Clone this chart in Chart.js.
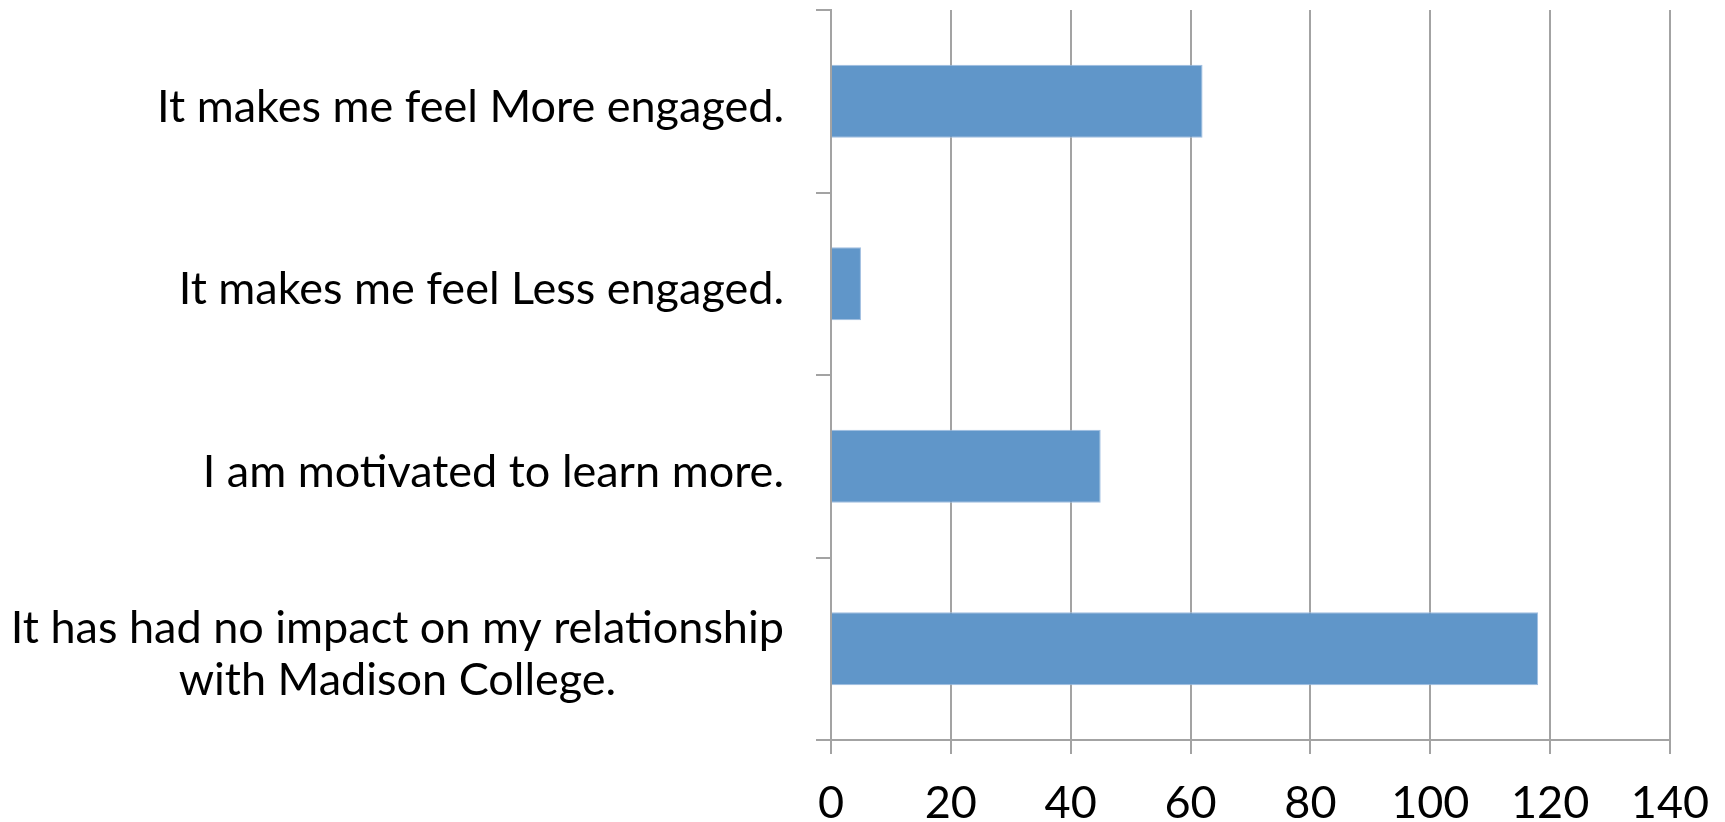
<!DOCTYPE html>
<html>
<head>
<meta charset="utf-8">
<script src="https://cdn.jsdelivr.net/npm/chart.js@4/dist/chart.umd.min.js"></script>
<style>
  html, body { margin: 0; padding: 0; background: #fff; overflow: hidden; }
  #wrap { width: 1725px; height: 822px; }
  canvas { display: block; }
</style>
</head>
<body>
<div id="wrap"><canvas id="chart"></canvas></div>
<script>
// survey answers, top to bottom
const answers = [
  ['It makes me feel More engaged.'],
  ['It makes me feel Less engaged.'],
  ['I am motivated to learn more.'],
  ['It has had no impact on my relationship', 'with Madison College.']
];
const responses = [62, 5, 45, 118];
const xTicks = [0, 20, 40, 60, 80, 100, 120, 140];

const FONT = 'Lato, "Open Sans", sans-serif';
const GRID = '#a3a3a3';

// category labels: right edge at the axis gap, wrapped lines centred on each other
const answerLabels = {
  id: 'answerLabels',
  afterDraw(chart) {
    const { ctx, scales: { y } } = chart;
    const rightEdge = y.right - 47;
    const lineH = 52;
    ctx.save();
    ctx.font = '45px ' + FONT;
    ctx.fillStyle = '#000';
    ctx.textAlign = 'center';
    ctx.textBaseline = 'middle';
    answers.forEach((lines, i) => {
      const widest = Math.max(...lines.map(l => ctx.measureText(l).width));
      const cx = rightEdge - widest / 2;
      const cy = y.getPixelForValue(i) + 6;
      const top = cy - (lines.length - 1) * lineH / 2;
      lines.forEach((l, k) => ctx.fillText(l, cx, top + k * lineH));
    });
    ctx.restore();
  }
};

new Chart(document.getElementById('chart'), {
  type: 'bar',
  data: {
    labels: answers.map(a => a.join(' ')),
    datasets: [{
      data: responses,
      backgroundColor: '#6096c9',
      borderColor: '#9fbde0',
      borderWidth: 1,
      barPercentage: 0.4,
      categoryPercentage: 1
    }]
  },
  options: {
    indexAxis: 'y',
    responsive: true,
    maintainAspectRatio: false,
    animation: false,
    layout: { padding: { top: 10, right: 55, left: 0, bottom: 0 } },
    plugins: {
      legend: { display: false },
      tooltip: { enabled: false }
    },
    scales: {
      x: {
        min: xTicks[0],
        max: xTicks[xTicks.length - 1],
        afterBuildTicks: s => { s.ticks = xTicks.map(v => ({ value: v })); },
        afterFit: s => {
          s.height = 82;
          // the end labels may hang over the plot edges
          s.paddingLeft = 0;
          s.paddingRight = 0;
        },
        grid: { color: GRID, lineWidth: 2, tickLength: 14, drawTicks: true },
        border: { color: GRID, width: 2 },
        ticks: {
          color: '#000',
          padding: 22,
          font: { family: FONT, size: 45 }
        }
      },
      y: {
        afterFit: s => { s.width = 831; },
        grid: { drawOnChartArea: false, color: GRID, lineWidth: 2, tickLength: 15, offset: true },
        border: { color: GRID, width: 2 },
        ticks: { display: false }
      }
    }
  },
  plugins: [answerLabels]
});
</script>
</body>
</html>
